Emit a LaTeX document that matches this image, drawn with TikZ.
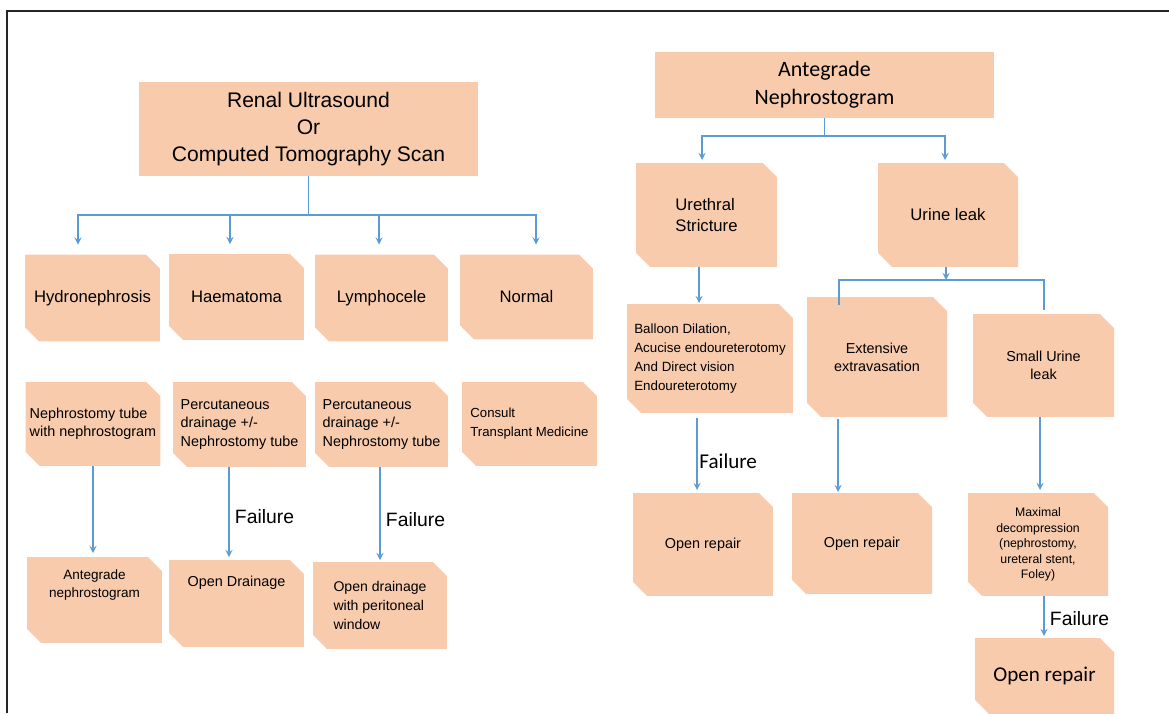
\documentclass[tikz,border=0pt]{standalone}
\usepackage{fontspec}
\setmainfont{Liberation Sans}
\newfontfamily\calfont{Carlito}
\usepackage{tikz}
\usetikzlibrary{arrows, calc}
\definecolor{peach}{RGB}{248,203,173}
\definecolor{linkblue}{RGB}{91,155,213}
\tikzstyle{plain} = [rectangle, fill=peach, inner sep=1pt, outer sep=0pt, align=center]
\tikzstyle{snip} = [rectangle, inner sep=1pt, outer sep=0pt, align=center,
  path picture={\fill[peach] (path picture bounding box.north west) -- ([xshift=-0.28cm]path picture bounding box.north east) -- ([yshift=-0.28cm]path picture bounding box.north east) -- (path picture bounding box.south east) -- ([xshift=0.28cm]path picture bounding box.south west) -- ([yshift=0.28cm]path picture bounding box.south west) -- cycle;}]
\tikzstyle{leftbox} = [snip, minimum width=2.7cm, minimum height=1.72cm]
\tikzstyle{rightbox} = [snip, minimum width=2.8cm, minimum height=2.06cm]
\tikzstyle{bigtxt} = [font=\fontsize{9.5}{11.9}\selectfont]
\tikzstyle{smalltxt} = [font=\fontsize{8.2}{10.3}\selectfont]
\tikzstyle{fail} = [anchor=west, inner sep=0pt, xshift=3pt, font=\fontsize{11}{13}\selectfont]
\tikzstyle{arrow} = [thick,->,>=stealth, draw=linkblue]
\tikzstyle{line} = [thick, draw=linkblue]

\begin{document}
\begin{tikzpicture}[x=0.02cm, y=-0.02cm]
\useasboundingbox (0,0) rectangle (1169,713);
\draw [line width=0.7pt, black!85] (7,713) -- (7,11) -- (1169,11);

% Nodes, left tree
\node (renal) [plain, minimum width=6.78cm, minimum height=1.88cm, font=\fontsize{12}{15.3}\selectfont] at (308.5,129) {Renal Ultrasound\\Or\\Computed Tomography Scan};
\node (hydro) [leftbox, bigtxt, minimum height=1.74cm] at (92.5,298) {Hydronephrosis};
\node (haem) [leftbox, bigtxt] at (236.5,297) {Haematoma};
\node (lymph) [leftbox, bigtxt, minimum width=2.66cm, minimum height=1.74cm] at (381.5,298) {Lymphocele};
\node (normal) [leftbox, bigtxt, minimum width=2.66cm, minimum height=1.7cm] at (526.5,297) {Normal};
\node (nephtube) [leftbox, smalltxt, align=left, minimum height=1.68cm] at (93,424) {Nephrostomy tube\\with nephrostogram};
\node (percut1) [leftbox, smalltxt, align=left, minimum width=2.66cm, minimum height=1.7cm] at (239.5,424.5) {Percutaneous\\drainage +/-\\Nephrostomy tube};
\node (percut2) [leftbox, smalltxt, align=left, minimum width=2.66cm, minimum height=1.7cm] at (381.5,424.5) {Percutaneous\\drainage +/-\\Nephrostomy tube};
\node (consult) [leftbox, align=left, minimum height=1.68cm, font=\fontsize{7.5}{10.8}\selectfont] at (529.5,424) {Consult\\Transplant Medicine};
\node (antneph) [leftbox, text depth=19pt, font=\fontsize{7.7}{10.2}\selectfont] at (94.5,600) {Antegrade\\nephrostogram};
\node (opendrain) [leftbox, smalltxt, text depth=25pt, minimum height=1.74cm] at (236.5,603.5) {Open Drainage};
\node (peritoneal) [leftbox, align=left, minimum width=2.68cm, minimum height=1.74cm, font=\fontsize{8}{10.8}\selectfont] at (380,605.5) {Open drainage\\with peritoneal\\window};

% Nodes, right tree
\node (antegrade) [plain, minimum width=6.78cm, minimum height=1.32cm, font=\calfont\fontsize{12.5}{15.9}\selectfont] at (824.5,85) {Antegrade\\Nephrostogram};
\node (stricture) [rightbox, bigtxt, align=left, minimum width=2.82cm, minimum height=2.08cm] at (706.5,215) {Urethral\\Stricture};
\node (leak) [rightbox, bigtxt, minimum height=2.08cm] at (948,215) {Urine leak};
\node (balloon) [rightbox, align=left, minimum width=3.32cm, minimum height=2.18cm, font=\fontsize{7.6}{10.8}\selectfont] at (710,358.5) {Balloon Dilation,\\Acucise endoureterotomy\\And Direct vision\\Endoureterotomy};
\node (extensive) [rightbox, smalltxt, minimum height=2.4cm] at (877,357) {Extensive\\extravasation};
\node (smallleak) [rightbox, smalltxt, minimum width=2.82cm] at (1043.5,365.5) {Small Urine\\leak};
\node (repair1) [rightbox, smalltxt] at (703,544.5) {Open repair};
\node (repair2) [rightbox, smalltxt, minimum height=2.02cm] at (862,543.5) {Open repair};
\node (maximal) [rightbox, font=\fontsize{7}{8.9}\selectfont] at (1038,544.5) {Maximal\\decompression\\(nephrostomy,\\ureteral stent,\\Foley)};
\node (repair3) [rightbox, minimum width=2.78cm, minimum height=1.52cm, font=\calfont\fontsize{12}{14}\selectfont] at (1044.5,676) {Open repair};

% Arrows, left tree
\coordinate (fork1) at (308.5,215);
\draw [line] (renal.south) -- (fork1);
\draw [arrow] (fork1) -| ($(hydro.north)+(-14.5,-10)$);
\draw [arrow] (fork1) -| ($(haem.north)+(-6.5,-10)$);
\draw [arrow] (fork1) -| ($(lymph.north)+(-2.5,-10)$);
\draw [arrow] (fork1) -| ($(normal.north)+(9.5,-10)$);
\draw [arrow] (nephtube.south) -- ($(nephtube.south |- antneph.north)+(0,-4)$);
\draw [arrow] ($(percut1.south)+(-10.5,0)$) -- node[fail, pos=0.55] {Failure} ($(percut1.south |- opendrain.north)+(-10.5,-3)$);
\draw [arrow] ($(percut2.south)+(-1.5,0)$) -- node[fail, pos=0.57] {Failure} ($(percut2.south |- peritoneal.north)+(-1.5,-2)$);

% Arrows, right tree
\coordinate (fork2) at (824.5,136);
\draw [line] (antegrade.south) -- (fork2);
\draw [arrow] (fork2) -| ($(stricture.north)+(-4.5,-3)$);
\draw [arrow] (fork2) -| ($(leak.north)+(-3,-3)$);
\draw [arrow] ($(stricture.south)+(-7.5,0)$) -- ($(stricture.south |- balloon.north)+(-7.5,-1)$);
\coordinate (fork3) at (946,280);
\draw [arrow] ($(leak.south)+(-2,0)$) -- (fork3);
\draw [line] (fork3) -| ($(extensive.north)+(-38,8)$);
\draw [line] (fork3) -| ($(smallleak.north)+(0.5,-4)$);
\draw [arrow] ($(balloon.south)+(-13,5)$) -- node[fail, pos=0.6, xshift=-2pt, font=\calfont\fontsize{12}{14}\selectfont] {Failure} ($(balloon.south |- repair1.north)+(-13,-3)$);
\draw [arrow] ($(extensive.south)+(-39,2)$) -- ($(extensive.south |- repair2.north)+(-39,-1)$);
\draw [arrow] ($(smallleak.south)+(-3.5,0)$) -- ($(smallleak.south |- maximal.north)+(-3.5,-3)$);
\draw [arrow] ($(maximal.south)+(6,0)$) -- node[fail, pos=0.57] {Failure} ($(maximal.south |- repair3.north)+(6,-2)$);

\end{tikzpicture}
\end{document}
